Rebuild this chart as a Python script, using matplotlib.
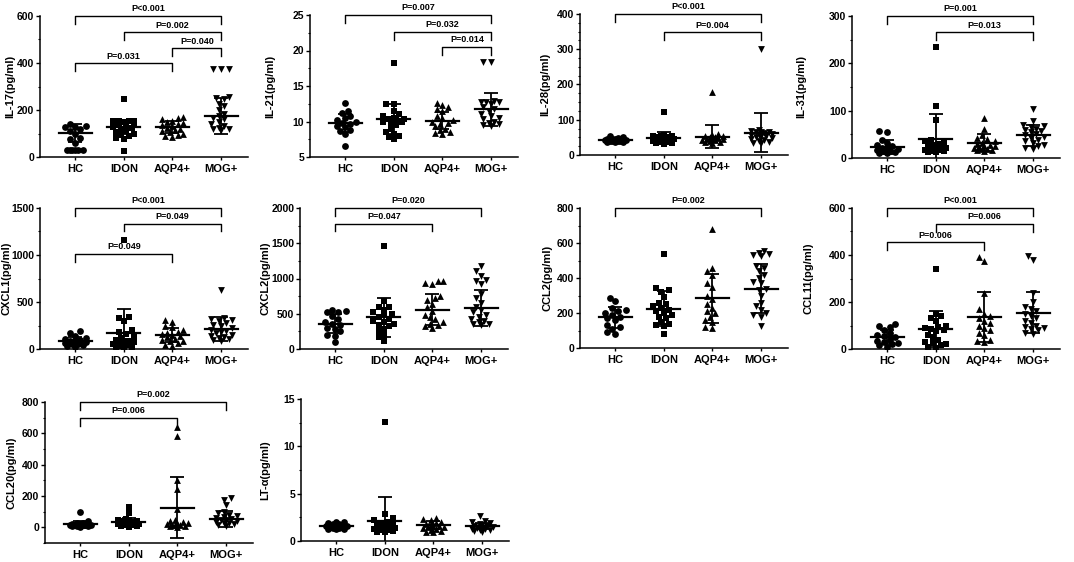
import numpy as np
import matplotlib
matplotlib.use('Agg')
import matplotlib.pyplot as plt
from matplotlib.ticker import AutoMinorLocator

plt.rcParams['font.family'] = ['Liberation Sans', 'DejaVu Sans']
plt.rcParams['font.weight'] = 'bold'

groups = ['HC', 'IDON', 'AQP4+', 'MOG+']
markers = ['o', 's', '^', 'v']

# values per group: HC, IDON, AQP4+, MOG+
il17 = [[28, 28, 28, 28, 28, 28, 60, 76, 80, 100, 109, 120, 127, 127, 133, 141],
        [247, 27, 155, 155, 155, 155, 150, 140, 135, 130, 128, 125, 120, 110, 105, 100, 95, 90, 80, 75],
        [170, 165, 160, 155, 150, 145, 140, 135, 130, 125, 120, 115, 110, 105, 100, 95, 90, 85],
        [375, 375, 375, 255, 250, 245, 225, 215, 200, 185, 175, 165, 160, 150, 140, 130, 125, 120, 118, 115]]
il17_mean = [102, 128, 128, 173]
il17_sd = [40, 30, 25, 77]

il21 = [[12.6, 11.5, 11.2, 10.8, 10.5, 10.2, 10.0, 9.8, 9.6, 9.4, 9.2, 8.8, 8.6, 8.3, 6.6],
        [18.3, 12.5, 12.5, 11.5, 11.0, 10.8, 10.5, 10.4, 10.3, 10.2, 10.0, 10.0, 9.8, 9.5, 9.0, 8.5, 8.3, 8.0, 7.8, 7.5],
        [12.6, 12.3, 12.0, 11.8, 11.5, 10.8, 10.5, 10.2, 10.0, 9.8, 9.6, 9.3, 9.0, 8.8, 8.5, 8.4, 8.3],
        [18.4, 18.4, 12.9, 12.8, 12.7, 12.7, 12.5, 12.0, 11.8, 11.5, 11.0, 10.8, 10.5, 10.3, 10.0, 9.8, 9.6, 9.5, 9.4]]
il21_mean = [9.8, 10.4, 10.1, 11.7]
il21_sd = [1.3, 2.1, 1.2, 2.3]

il28 = [[55, 50, 48, 46, 45, 44, 43, 42, 41, 40, 40, 39, 38, 37, 36],
        [123, 58, 55, 55, 53, 50, 50, 48, 47, 45, 45, 44, 42, 40, 40, 38, 36, 35, 33, 32],
        [180, 60, 58, 55, 53, 50, 50, 48, 46, 45, 44, 43, 42, 40, 38, 36, 35],
        [300, 70, 68, 66, 65, 64, 62, 60, 58, 56, 55, 53, 50, 48, 45, 42, 40, 38, 35, 33]]
il28_mean = [42, 48, 52, 63]
il28_sd = [5, 17, 32, 55]

il31 = [[58, 55, 38, 32, 28, 25, 22, 20, 18, 16, 15, 14, 12, 11, 10],
        [234, 110, 80, 38, 36, 33, 30, 28, 26, 25, 24, 22, 20, 18, 17, 16, 15, 14, 13, 12],
        [85, 62, 48, 42, 40, 35, 32, 30, 28, 26, 25, 24, 22, 20, 18, 17, 16, 15],
        [103, 78, 70, 68, 65, 62, 60, 58, 55, 50, 48, 45, 42, 38, 35, 32, 28, 25, 22, 20]]
il31_mean = [24, 40, 32, 48]
il31_sd = [15, 52, 18, 22]

cxcl1 = [[190, 170, 140, 120, 110, 100, 90, 80, 70, 60, 55, 50, 40, 30, 25],
         [1160, 345, 330, 295, 200, 180, 160, 140, 120, 100, 90, 80, 70, 60, 50, 40, 30, 25, 20, 15],
         [310, 290, 250, 230, 200, 180, 170, 160, 150, 140, 130, 110, 100, 90, 80, 60, 40, 30],
         [625, 330, 320, 310, 300, 280, 260, 240, 220, 200, 190, 180, 170, 150, 140, 130, 120, 110, 100, 90]]
cxcl1_mean = [82, 175, 148, 212]
cxcl1_sd = [50, 250, 75, 130]

cxcl2 = [[555, 540, 530, 520, 470, 420, 380, 360, 340, 300, 280, 250, 200, 180, 100],
         [1460, 680, 600, 590, 560, 520, 500, 480, 450, 420, 400, 380, 360, 340, 320, 290, 250, 200, 170, 110],
         [970, 960, 930, 920, 750, 720, 700, 640, 600, 540, 480, 450, 420, 380, 360, 340, 320, 300],
         [1180, 1100, 1030, 980, 960, 920, 780, 720, 650, 600, 560, 520, 480, 460, 420, 400, 380, 360, 350, 340]]
cxcl2_mean = [360, 450, 560, 580]
cxcl2_sd = [140, 280, 220, 250]

ccl2 = [[285, 270, 230, 215, 210, 200, 190, 180, 170, 160, 130, 120, 110, 90, 80],
        [540, 345, 330, 320, 290, 260, 250, 240, 230, 220, 210, 200, 190, 180, 170, 150, 140, 130, 125, 80],
        [680, 455, 440, 420, 370, 350, 300, 280, 250, 230, 210, 200, 180, 160, 150, 120, 115],
        [555, 545, 535, 530, 525, 470, 460, 440, 420, 400, 380, 370, 340, 330, 300, 260, 240, 220, 200, 190, 180, 125]]
ccl2_mean = [175, 225, 283, 340]
ccl2_sd = [60, 100, 142, 140]

ccl11 = [[105, 100, 95, 80, 70, 60, 55, 50, 40, 35, 30, 25, 20, 15, 10],
         [340, 150, 140, 130, 120, 100, 95, 90, 85, 80, 75, 60, 50, 40, 30, 25, 20, 15, 10, 5],
         [390, 375, 240, 170, 150, 140, 130, 120, 110, 100, 90, 80, 70, 60, 40, 35, 30],
         [395, 380, 240, 200, 180, 170, 160, 150, 140, 130, 120, 110, 100, 95, 90, 85, 80, 70, 65]]
ccl11_mean = [50, 85, 136, 154]
ccl11_sd = [30, 75, 105, 88]

ccl20 = [[100, 40, 30, 25, 22, 20, 18, 16, 15, 14, 12, 10, 8, 6, 5],
         [130, 90, 55, 50, 45, 40, 38, 35, 32, 30, 28, 25, 22, 20, 18, 15, 12, 10, 8, 5],
         [640, 580, 300, 245, 115, 50, 40, 35, 30, 25, 20, 18, 15, 12, 10, 8, 5],
         [185, 175, 140, 100, 90, 80, 70, 65, 60, 55, 50, 45, 40, 35, 30, 25, 20, 15, 10]]
ccl20_mean = [20, 35, 125, 55]
ccl20_sd = [22, 25, 195, 50]

lta = [[2.0, 2.0, 1.9, 1.8, 1.8, 1.7, 1.6, 1.6, 1.5, 1.5, 1.4, 1.4, 1.3, 1.3, 1.3],
       [12.6, 2.9, 2.4, 2.2, 2.0, 1.9, 1.8, 1.7, 1.6, 1.5, 1.5, 1.4, 1.4, 1.3, 1.3, 1.2, 1.2, 1.1, 1.0, 0.9],
       [2.4, 2.3, 2.2, 2.0, 1.9, 1.8, 1.7, 1.6, 1.6, 1.5, 1.5, 1.4, 1.3, 1.2, 1.1, 1.0, 0.9],
       [2.6, 2.1, 2.0, 1.9, 1.8, 1.7, 1.6, 1.6, 1.5, 1.5, 1.4, 1.4, 1.3, 1.3, 1.2, 1.2, 1.1, 1.0]]
lta_mean = [1.6, 2.15, 1.7, 1.6]
lta_sd = [0.25, 2.5, 0.4, 0.3]

# significance brackets: (group a, group b, height, label)
il17_sig = [(0, 3, 600, 'P<0.001'), (1, 3, 530, 'P=0.002'), (2, 3, 462, 'P=0.040'), (0, 2, 398, 'P=0.031')]
il21_sig = [(0, 3, 25, 'P=0.007'), (1, 3, 22.6, 'P=0.032'), (2, 3, 20.5, 'P=0.014')]
il28_sig = [(0, 3, 400, 'P<0.001'), (1, 3, 348, 'P=0.004')]
il31_sig = [(0, 3, 300, 'P=0.001'), (1, 3, 266, 'P=0.013')]
cxcl1_sig = [(0, 3, 1500, 'P<0.001'), (1, 3, 1333, 'P=0.049'), (0, 2, 1013, 'P=0.049')]
cxcl2_sig = [(0, 3, 2000, 'P=0.020'), (0, 2, 1777, 'P=0.047')]
ccl2_sig = [(0, 3, 800, 'P=0.002')]
ccl11_sig = [(0, 3, 600, 'P<0.001'), (1, 3, 532, 'P=0.006'), (0, 2, 455, 'P=0.006')]
ccl20_sig = [(0, 3, 800, 'P=0.002'), (0, 2, 698, 'P=0.006')]
lta_sig = []

W, H = 1074, 562
AX_W = 208
PX_CAT = 48.5
XLIM = (-0.72, 3.55)

# (ylabel, values, means, sds, ylim, yticks, minor, brackets, left px, top px, bottom px, label dist px)
panels = [
    ('IL-17(pg/ml)', il17, il17_mean, il17_sd, (0, 600), [0, 200, 400, 600], 2, il17_sig, 40, 16, 157, 29),
    ('IL-21(pg/ml)', il21, il21_mean, il21_sd, (5, 25), [5, 10, 15, 20, 25], 2, il21_sig, 310, 15, 157, 39),
    ('IL-28(pg/ml)', il28, il28_mean, il28_sd, (0, 400), [0, 100, 200, 300, 400], 4, il28_sig, 580, 14, 155, 34),
    ('IL-31(pg/ml)', il31, il31_mean, il31_sd, (0, 300), [0, 100, 200, 300], 2, il31_sig, 852, 16, 158, 50),
    ('CXCL1(pg/ml)', cxcl1, cxcl1_mean, cxcl1_sd, (0, 1500), [0, 500, 1000, 1500], 2, cxcl1_sig, 40, 208, 349, 33),
    ('CXCL2(pg/ml)', cxcl2, cxcl2_mean, cxcl2_sd, (0, 2000), [0, 500, 1000, 1500, 2000], 2, cxcl2_sig, 300, 208, 349, 34),
    ('CCL2(pg/ml)', ccl2, ccl2_mean, ccl2_sd, (0, 800), [0, 200, 400, 600, 800], 2, ccl2_sig, 580, 208, 348, 32),
    ('CCL11(pg/ml)', ccl11, ccl11_mean, ccl11_sd, (0, 600), [0, 200, 400, 600], 2, ccl11_sig, 852, 208, 349, 43),
    ('CCL20(pg/ml)', ccl20, ccl20_mean, ccl20_sd, (-100, 800), [0, 200, 400, 600, 800], 2, ccl20_sig, 45, 402, 543, 33),
    ('LT-α(pg/ml)', lta, lta_mean, lta_sd, (0, 15), [0, 5, 10, 15], 2, lta_sig, 301, 399, 541, 35),
]


def swarm(vals, ylo, yhi, h_px, d=5.6, step=2.6, half_w=13):
    # beeswarm in pixel space, capped width, overlap when crowded
    vals = np.asarray(vals, float)
    ypx = (vals - ylo) / (yhi - ylo) * h_px
    n = int(half_w // step)
    cands = sorted([k * step for k in range(-n, n + 1)], key=lambda v: (abs(v), v))
    placed = []
    xs = np.zeros(len(vals))
    for idx in np.argsort(ypx):
        y = ypx[idx]
        best, best_d = 0.0, -1.0
        for c in cands:
            md = min([np.hypot(c - px, y - py) for px, py in placed], default=1e9)
            if md >= d:
                best = c
                break
            if md > best_d + 0.5:
                best, best_d = c, md
        placed.append((best, y))
        xs[idx] = best
    return xs / PX_CAT


fig = plt.figure(figsize=(W / 100, H / 100), dpi=100)

for (ylab, vals, means, sds, ylim, yticks, nminor, sig, left, top, bottom, ldist) in panels:
    h_px = bottom - top
    ax = fig.add_axes([left / W, (H - bottom) / H, AX_W / W, h_px / H])
    yrng = ylim[1] - ylim[0]
    for i, grp in enumerate(vals):
        xs = swarm(grp, ylim[0], ylim[1], h_px)
        ax.scatter(i + xs, grp, marker=markers[i], s=24, c='black', linewidths=0, zorder=3)
        ax.plot([i - 0.34, i + 0.34], [means[i], means[i]], color='black', lw=1.6, zorder=4)
        ax.errorbar(i, means[i], yerr=sds[i], fmt='none', ecolor='black', elinewidth=1.3,
                    capsize=5, capthick=1.3, zorder=4)
    leg = 0.055 * yrng
    for a, b, y, lab in sig:
        ax.plot([a, a, b, b], [y - leg, y, y, y - leg], color='black', lw=1.0, clip_on=False)
        ax.text((a + b) / 2, y + 0.018 * yrng, lab, ha='center', va='bottom', fontsize=6.5,
                fontweight='bold')
    ax.set_xlim(*XLIM)
    ax.set_ylim(*ylim)
    ax.set_xticks(range(4))
    ax.set_xticklabels(groups)
    ax.set_yticks(yticks)
    ax.yaxis.set_minor_locator(AutoMinorLocator(nminor))
    ax.set_ylabel(ylab, fontsize=8, fontweight='bold')
    ax.yaxis.set_label_coords(-(ldist - 4.5) / AX_W, 0.5)
    for s in ['top', 'right']:
        ax.spines[s].set_visible(False)
    for s in ['left', 'bottom']:
        ax.spines[s].set_linewidth(1.1)
    ax.tick_params(axis='y', which='major', length=3, width=1.0, labelsize=7.5, pad=1.2)
    ax.tick_params(axis='y', which='minor', length=1.8, width=0.8)
    ax.tick_params(axis='x', length=2, width=1.0, labelsize=8, pad=3)

fig.savefig('out.png', dpi=100)
